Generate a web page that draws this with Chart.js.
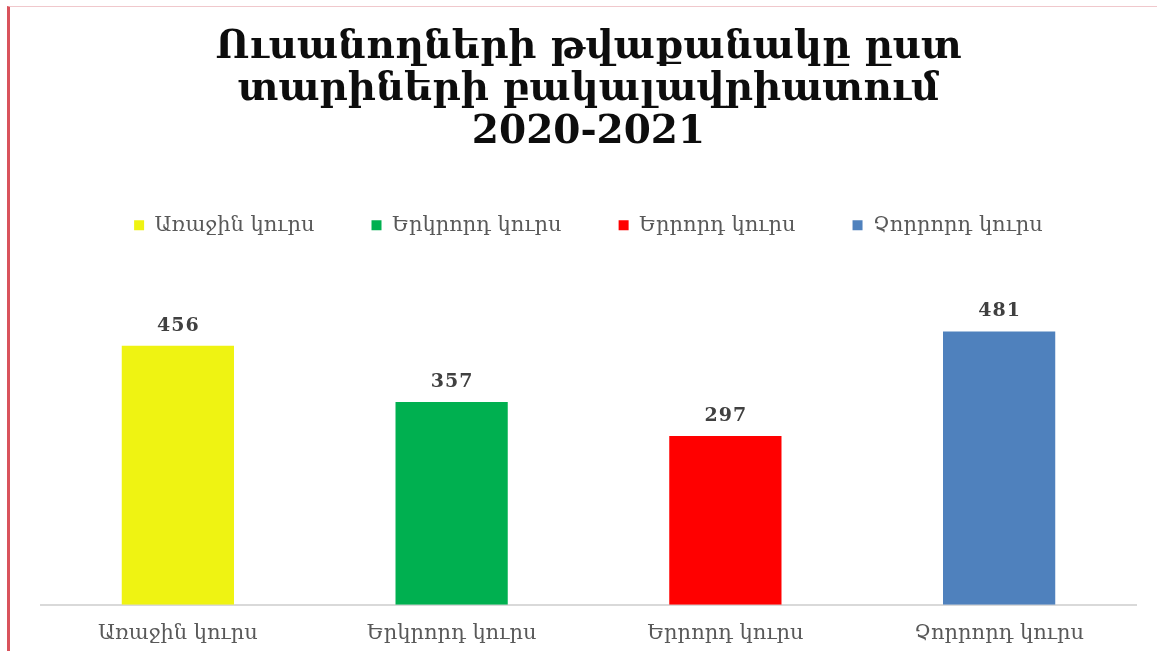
<!DOCTYPE html>
<html>
<head>
<meta charset="utf-8">
<script src="https://cdn.jsdelivr.net/npm/chart.js@4.4.0/dist/chart.umd.min.js"></script>
<style>
  html, body { margin: 0; padding: 0; background: #ffffff; overflow: hidden; }
  #frame { position: absolute; left: 7px; top: 6px; width: 1150px; height: 645px;
           border-left: 3px solid #d9535c; border-top: 1px solid #f0c8cc; box-sizing: border-box; }
  #wrap { position: absolute; left: 0; top: 0; width: 1157px; height: 651px; overflow: hidden; }
</style>
</head>
<body>
<div id="frame"></div>
<div id="wrap"><canvas id="c" width="1157" height="654"></canvas></div>
<script>
const titleLines = ["Ուսանողների թվաքանակը ըստ", "տարիների բակալավրիատում", "2020-2021"];
const categories = ["Առաջին կուրս", "Երկրորդ կուրս", "Երրորդ կուրս", "Չորրորդ կուրս"];
const values = [456, 357, 297, 481];
const barColors = ["#EFF312", "#00B050", "#FF0000", "#4F81BD"];
const yMin = 0;
const yMax = 632;

const valueLabels = {
  id: 'valueLabels',
  afterDatasetsDraw(chart) {
    const ctx = chart.ctx;
    const meta = chart.getDatasetMeta(0);
    ctx.save();
    ctx.font = 'bold 19px "DejaVu Serif"';
    if ('letterSpacing' in ctx) ctx.letterSpacing = '1px';
    ctx.fillStyle = '#404040';
    ctx.textAlign = 'center';
    ctx.textBaseline = 'middle';
    meta.data.forEach((bar, i) => {
      ctx.fillText(String(values[i]), bar.x + 0.5, bar.y - 20);
    });
    ctx.restore();
  }
};

new Chart(document.getElementById('c'), {
  type: 'bar',
  data: {
    labels: categories,
    datasets: [{
      data: values,
      backgroundColor: barColors,
      borderWidth: 0,
      barPercentage: 0.82,
      categoryPercentage: 0.5
    }]
  },
  options: {
    responsive: false,
    animation: false,
    layout: { padding: { left: 41, right: 21, top: 26, bottom: 0 } },
    plugins: {
      title: {
        display: true,
        text: titleLines,
        color: '#0d0d0d',
        font: { family: '"DejaVu Serif"', size: 39, weight: 'bold', lineHeight: 1.1 },
        padding: { top: 0, bottom: 3 }
      },
      legend: {
        display: true,
        position: 'top',
        labels: {
          boxWidth: 10,
          boxHeight: 10,
          padding: 57,
          color: '#595959',
          font: { family: '"DejaVu Serif"', size: 21 },
          generateLabels() {
            return categories.map((c, i) => ({
              text: c,
              fillStyle: barColors[i],
              strokeStyle: barColors[i],
              lineWidth: 0,
              hidden: false,
              index: i,
              fontColor: '#595959'
            }));
          }
        },
        onClick() {}
      },
      tooltip: { enabled: false }
    },
    scales: {
      x: {
        grid: { display: false },
        border: { display: true, color: '#d9d9d9', width: 2 },
        ticks: { color: '#595959', font: { family: '"DejaVu Serif"', size: 21 }, padding: 8 }
      },
      y: {
        display: false,
        min: yMin,
        max: yMax
      }
    }
  },
  plugins: [valueLabels]
});
</script>
</body>
</html>
